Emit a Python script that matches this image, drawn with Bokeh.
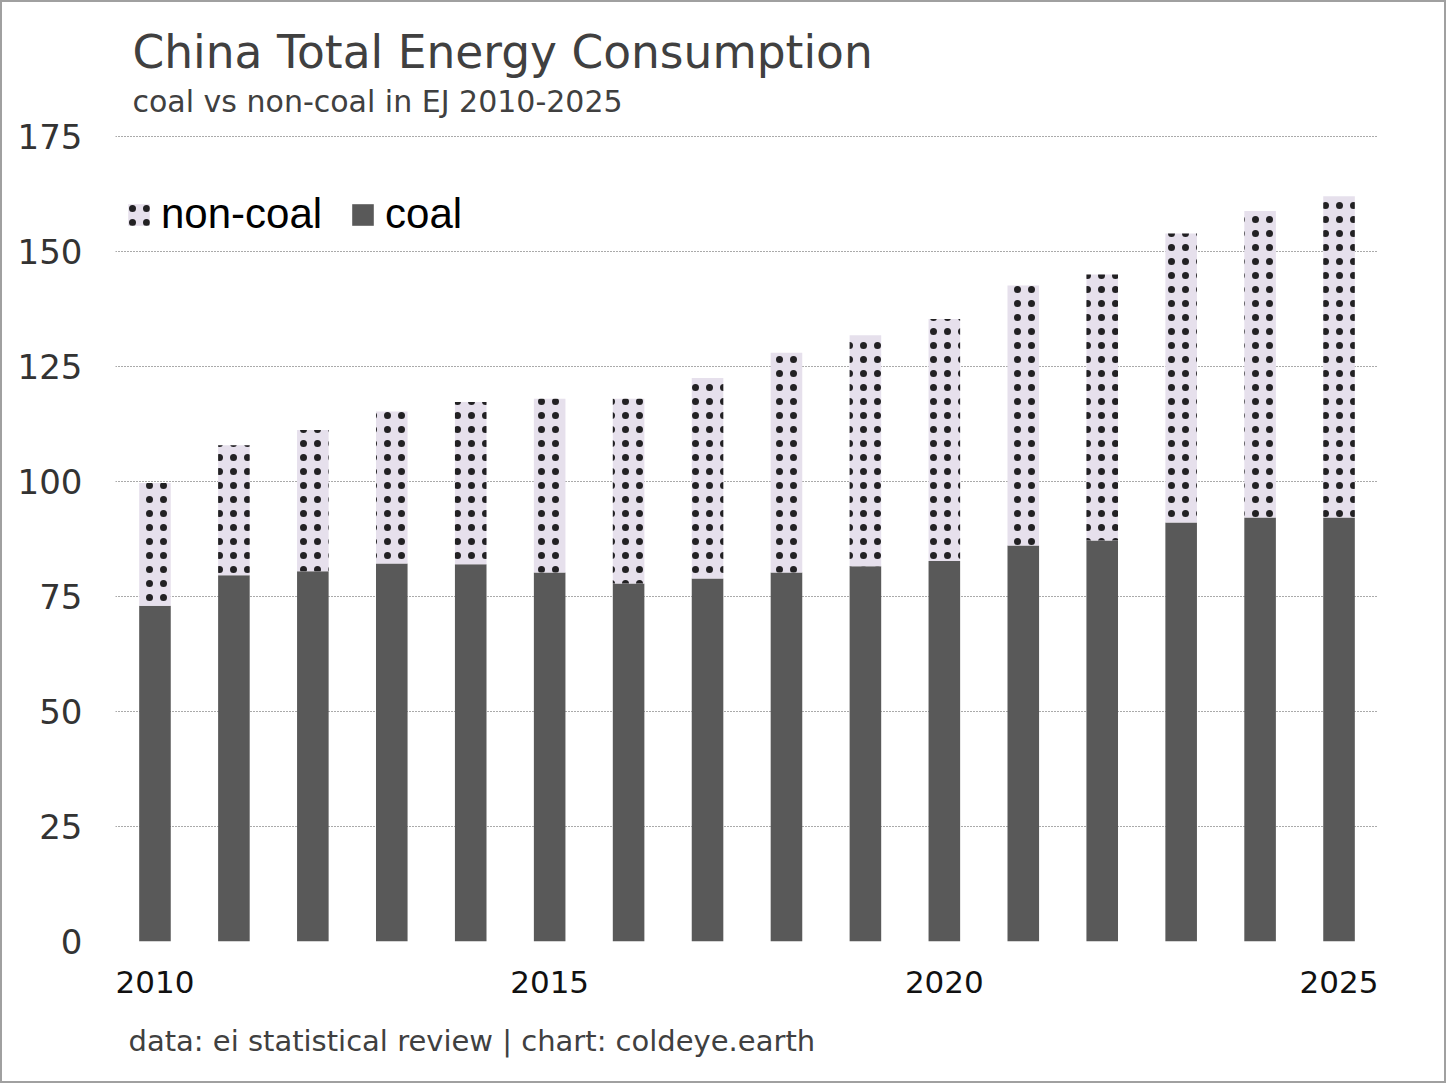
from bokeh.plotting import figure
from bokeh.models import (ColumnDataSource, Range1d, FixedTicker, Legend,
                          LegendItem, Title, Label)
from bokeh.embed import file_html
from bokeh.resources import INLINE

# ---- data (EJ) ----
years = [2010, 2011, 2012, 2013, 2014, 2015, 2016, 2017,
         2018, 2019, 2020, 2021, 2022, 2023, 2024, 2025]
coal = [73.0, 79.6, 80.5, 82.2, 82.0, 80.2, 77.8, 78.9,
        80.2, 81.6, 82.7, 86.1, 87.2, 91.1, 92.2, 92.2]
non_coal = [26.7, 28.3, 30.7, 33.0, 35.3, 37.8, 40.2, 43.6,
            47.8, 50.2, 52.6, 56.5, 57.8, 62.8, 66.6, 69.8]
x_ticks = [2010, 2015, 2020, 2025]
y_ticks = [0, 25, 50, 75, 100, 125, 150, 175]

title_text = "China Total Energy Consumption"
subtitle_text = "coal vs non-coal in EJ 2010-2025"
footer_text = "data: ei statistical review | chart: coldeye.earth"

total = [c + n for c, n in zip(coal, non_coal)]
src = ColumnDataSource(dict(year=years, coal=coal, non_coal=non_coal, total=total))

FONT = "DejaVu Sans"
FRAME_H = 939          # px, frame reaches the top of the canvas
PX_PER_UNIT = 4.6      # 175 units over 805 px

p = figure(width=1446, height=1083, output_backend="svg", toolbar_location=None,
           x_range=Range1d(2009.5, 2025.5),
           y_range=Range1d(0, FRAME_H / PX_PER_UNIT),
           min_border_left=113, min_border_right=70, min_border_top=0,
           min_border_bottom=144)
p.styles = {"border": "2px solid #a0a0a0"}
p.outline_line_color = None
p.background_fill_color = "white"
p.border_fill_color = "white"

r_coal = p.vbar(x="year", top="coal", bottom=0, width=0.4, source=src,
                fill_color="#595959", line_color=None)
r_non = p.vbar(x="year", top="total", bottom="coal", width=0.4, source=src,
               fill_color="#E6E0EC", line_color=None,
               hatch_pattern=".", hatch_color="black", hatch_scale=14,
               hatch_weight=0.3, hatch_alpha=0.85)

# axes
p.xaxis.ticker = FixedTicker(ticks=x_ticks)
p.yaxis.ticker = FixedTicker(ticks=y_ticks)
for ax in (p.xaxis[0], p.yaxis[0]):
    ax.axis_line_color = None
    ax.major_tick_line_color = None
    ax.minor_tick_line_color = None
    ax.major_label_text_font = FONT
p.xaxis.major_label_text_font_size = "31px"
p.xaxis.major_label_text_color = "#111111"
p.xaxis.major_label_standoff = 23
p.yaxis.major_label_text_font_size = "34px"
p.yaxis.major_label_text_color = "#333333"
p.yaxis.major_label_standoff = 27

p.xgrid.grid_line_color = None
p.ygrid.grid_line_color = "#555555"
p.ygrid.grid_line_dash = "1 2"
p.ygrid.grid_line_width = 1

# legend
legend = Legend(items=[LegendItem(label="non-coal", renderers=[r_non]),
                       LegendItem(label="coal", renderers=[r_coal])],
                orientation="horizontal", location=(10, 703),
                glyph_width=27, glyph_height=27, label_standoff=9, spacing=27,
                padding=0, margin=0, border_line_color=None,
                background_fill_alpha=0,
                label_text_font="Liberation Sans", label_text_font_size="42px",
                label_text_color="black")
p.add_layout(legend)

# titles (inside the tall frame) and footer
p.add_layout(Label(x=17, y=889, x_units="screen", y_units="screen", text=title_text,
                   text_font=FONT, text_font_size="45.5px", text_color="#404040",
                   text_baseline="alphabetic"))
p.add_layout(Label(x=17, y=840, x_units="screen", y_units="screen", text=subtitle_text,
                   text_font=FONT, text_font_size="30px", text_color="#404040",
                   text_baseline="alphabetic"))
p.add_layout(Title(text=footer_text, align="left", offset=13, standoff=53,
                   text_font=FONT, text_font_size="29px", text_color="#404040",
                   text_font_style="normal"), "below")

open("out.html", "w").write(file_html(p, INLINE))
